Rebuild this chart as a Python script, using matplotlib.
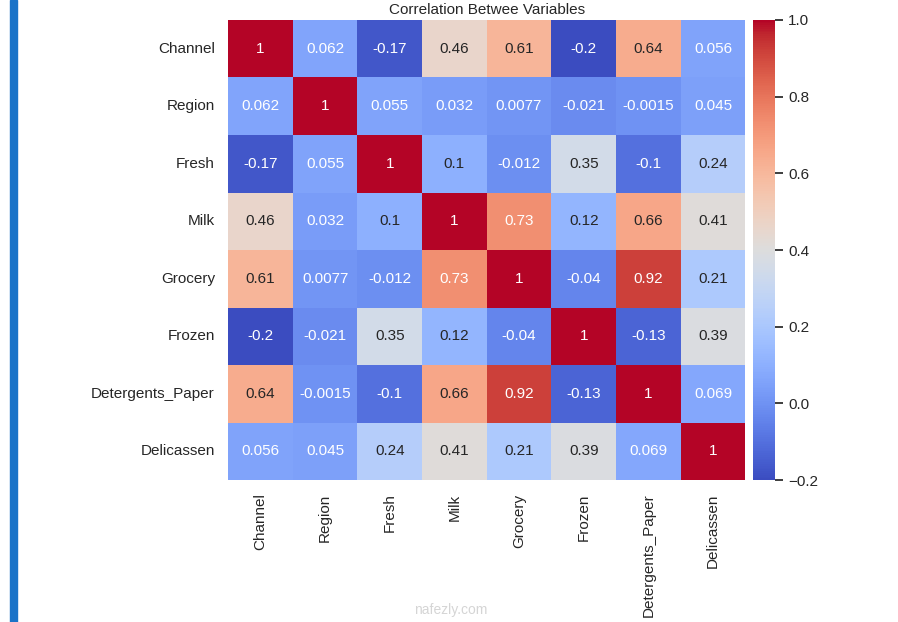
import numpy as np
import pandas as pd
import matplotlib
matplotlib.use("Agg")
import matplotlib.pyplot as plt
import seaborn as sns

labels = ["Channel", "Region", "Fresh", "Milk", "Grocery", "Frozen",
          "Detergents_Paper", "Delicassen"]
corr = [
    [1, 0.062, -0.17, 0.46, 0.61, -0.2, 0.64, 0.056],
    [0.062, 1, 0.055, 0.032, 0.0077, -0.021, -0.0015, 0.045],
    [-0.17, 0.055, 1, 0.1, -0.012, 0.35, -0.1, 0.24],
    [0.46, 0.032, 0.1, 1, 0.73, 0.12, 0.66, 0.41],
    [0.61, 0.0077, -0.012, 0.73, 1, -0.04, 0.92, 0.21],
    [-0.2, -0.021, 0.35, 0.12, -0.04, 1, -0.13, 0.39],
    [0.64, -0.0015, -0.1, 0.66, 0.92, -0.13, 1, 0.069],
    [0.056, 0.045, 0.24, 0.41, 0.21, 0.39, 0.069, 1],
]
df = pd.DataFrame(corr, index=labels, columns=labels)

sns.set_theme(style="white")
plt.rcParams['font.family'] = ['Liberation Sans', 'DejaVu Sans']

fig = plt.figure(figsize=(8.98, 6.22), dpi=100)
ax = fig.add_axes([0.254, 0.228, 0.576, 0.740])
cax = fig.add_axes([0.8385, 0.228, 0.0245, 0.740])

sns.heatmap(df, annot=True, cmap="coolwarm", ax=ax, cbar_ax=cax,
            annot_kws={"size": 11})
ax.set_title("Correlation Betwee Variables", fontsize=11, pad=4)
ax.tick_params(axis="both", labelsize=11)
cax.tick_params(labelsize=11)

# left blue bar and watermark
fig.patches.append(plt.Rectangle((0.011, 0), 0.008, 1, transform=fig.transFigure,
                                 color="#1a73c8", zorder=5))
fig.text(0.502, 0.013, "nafezly.com", ha="center", fontsize=10, color="#d5d5d5")

fig.savefig("out.png", dpi=100)
